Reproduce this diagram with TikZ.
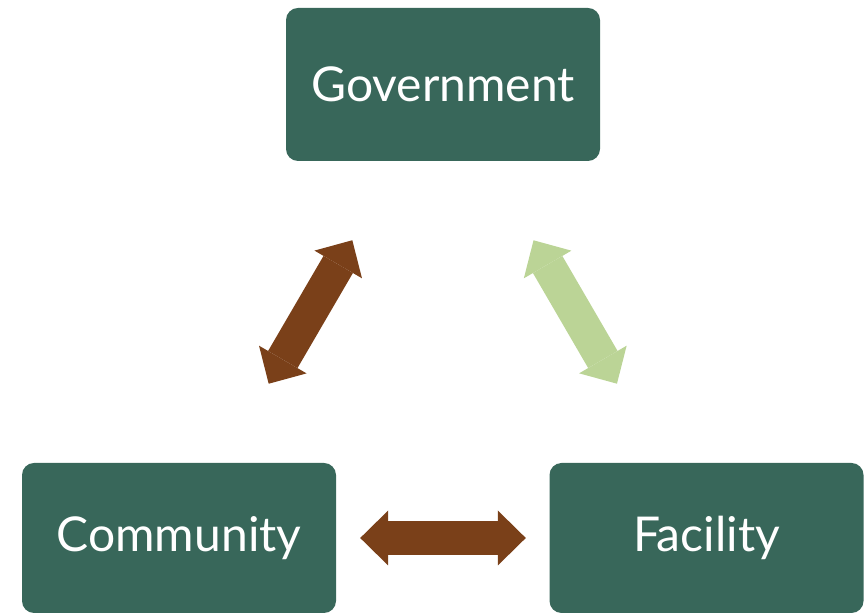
\documentclass[tikz,border=0pt]{standalone}
\usepackage{fontspec}
\setmainfont{Lato}
\usetikzlibrary{arrows.meta}

\definecolor{boxgreen}{HTML}{38675A}
\definecolor{linkbrown}{HTML}{7A4019}
\definecolor{linkgreen}{HTML}{BBD496}

\begin{document}
\begin{tikzpicture}[x=1pt, y=1pt,
    party/.style={fill=boxgreen, rounded corners=12pt, text=white,
      minimum width=314pt, font=\fontsize{48}{56}\selectfont},
    link/.style={line width=34pt,
      {Triangle[length=28pt, width=55pt, line width=0pt]}-{Triangle[length=28pt, width=55pt, line width=0pt]}}]
    \useasboundingbox (0,0) rectangle (865,615);

    % the three parties
    \node[party, minimum height=153pt] (gov) at (443,530.5) {Government};
    \node[party, minimum height=150pt] (comm) at (179,77) {Community};
    \node[party, minimum height=150pt] (fac) at (706.5,77) {Facility};

    % two-way links between them
    \draw[link, linkbrown, shorten <=91.5pt, shorten >=91.5pt] (gov) -- (comm);
    \draw[link, linkgreen, shorten <=91.5pt, shorten >=91.5pt] (gov) -- (fac);
    \draw[link, linkbrown, shorten <=24pt, shorten >=23.5pt] (comm) -- (fac);
  \end{tikzpicture}
\end{document}
